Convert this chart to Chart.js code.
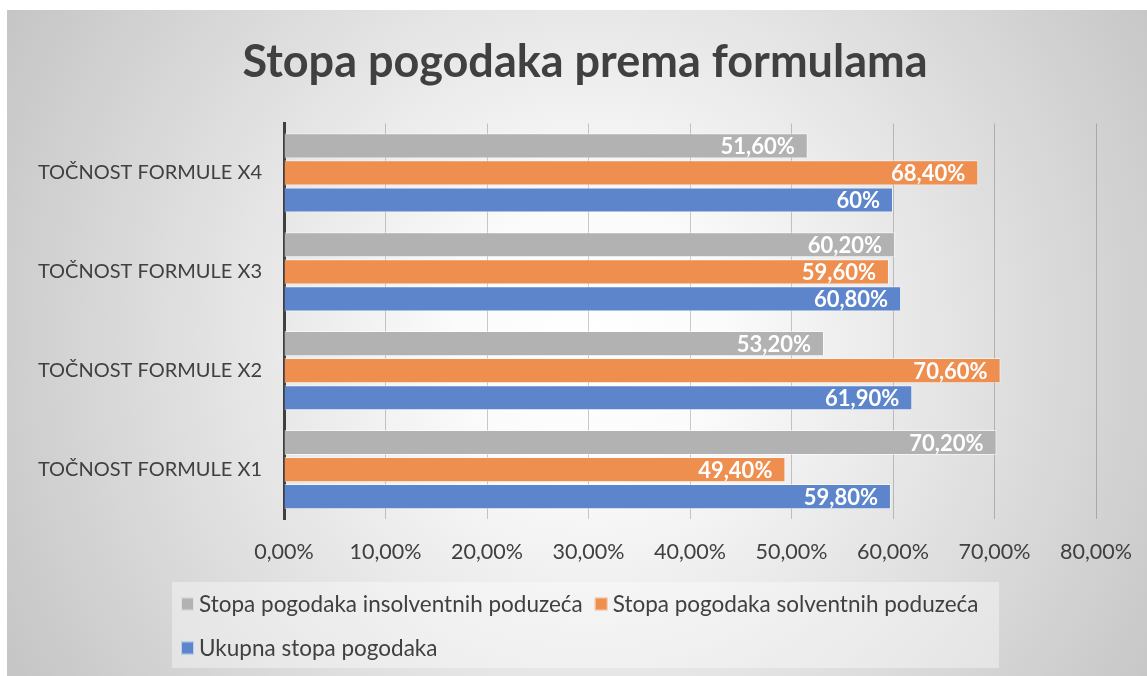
<!DOCTYPE html>
<html>
<head>
<meta charset="utf-8">
<script src="https://cdn.jsdelivr.net/npm/chart.js@4.4.1/dist/chart.umd.min.js"></script>
<style>
html,body{margin:0;padding:0;background:#fff;}
canvas{display:block;}
</style>
</head>
<body>
<canvas id="c" width="1147" height="676"></canvas>
<script>
// ---- data ----
const titleText = 'Stopa pogodaka prema formulama';
const categories = ['TOČNOST FORMULE X4', 'TOČNOST FORMULE X3', 'TOČNOST FORMULE X2', 'TOČNOST FORMULE X1'];
const seriesNames = ['Stopa pogodaka insolventnih poduzeća', 'Stopa pogodaka solventnih poduzeća', 'Ukupna stopa pogodaka'];
const insolventValues = [51.6, 60.2, 53.2, 70.2];
const solventValues = [68.4, 59.6, 70.6, 49.4];
const totalValues = [60, 60.8, 61.9, 59.8];
const xTicks = [0, 10, 20, 30, 40, 50, 60, 70, 80];
const seriesColors = ['#b2b2b2', '#ee8e4f', '#5d85cc'];

const FONT = 'Lato, "Open Sans", sans-serif';
const TEXT = '#404040';

function fmtPct(v, always2) {
  if (!always2 && Number.isInteger(v)) return v + '%';
  return v.toFixed(2).replace('.', ',') + '%';
}

const bgPlugin = {
  id: 'bg',
  afterLayout(chart) {
    // centre the title on the picture, as in the reference
    const t = chart.titleBlock;
    if (t) { const half = (t.right - t.left) / 2; t.left = 585 - half; t.right = 585 + half; }
  },
  beforeDraw(chart) {
    const ctx = chart.ctx;
    ctx.save();
    ctx.fillStyle = '#ffffff';
    ctx.fillRect(0, 0, chart.width, chart.height);
    const g = ctx.createRadialGradient(590, 340, 0, 590, 340, 660);
    g.addColorStop(0, '#ffffff');
    g.addColorStop(0.2, '#fbfbfb');
    g.addColorStop(1, '#c6c6c6');
    ctx.fillStyle = g;
    ctx.fillRect(7, 10, chart.width - 7, chart.height - 10);
    ctx.restore();
  }
};

const labelPlugin = {
  id: 'barLabels',
  afterDatasetsDraw(chart) {
    const ctx = chart.ctx;
    ctx.save();
    ctx.font = 'bold 22px ' + FONT;
    ctx.fillStyle = '#ffffff';
    ctx.textAlign = 'right';
    ctx.textBaseline = 'middle';
    chart.data.datasets.forEach((ds, di) => {
      const meta = chart.getDatasetMeta(di);
      meta.data.forEach((bar, i) => {
        ctx.fillText(fmtPct(ds.data[i], false), bar.x - 13, bar.y + 1);
      });
    });
    ctx.restore();
  }
};

const legendPlugin = {
  id: 'customLegend',
  afterDraw(chart) {
    const ctx = chart.ctx;
    const box = {l: 172, t: 582, r: 999, b: 668};
    ctx.save();
    ctx.fillStyle = 'rgba(255,255,255,0.38)';
    ctx.fillRect(box.l, box.t, box.r - box.l, box.b - box.t);
    ctx.font = '22.5px ' + FONT;
    ctx.textBaseline = 'middle';
    ctx.textAlign = 'left';
    let x = 181, y = 604;
    chart.data.datasets.forEach((ds, i) => {
      const w = ctx.measureText(ds.label).width;
      if (i > 0 && x + 18 + w > box.r) { x = 181; y += 44; }
      ctx.fillStyle = ds.backgroundColor;
      ctx.fillRect(x, y - 6.5, 13, 13);
      ctx.strokeStyle = 'rgba(255,255,255,0.6)';
      ctx.lineWidth = 1;
      ctx.strokeRect(x + 0.5, y - 6, 12, 12);
      ctx.fillStyle = TEXT;
      ctx.fillText(ds.label, x + 18, y + 1);
      x += 18 + w + 12;
    });
    ctx.restore();
  }
};

const ctx = document.getElementById('c').getContext('2d');
new Chart(ctx, {
  type: 'bar',
  data: {
    labels: categories,
    datasets: [
      {label: seriesNames[0], data: insolventValues, backgroundColor: seriesColors[0]},
      {label: seriesNames[1], data: solventValues, backgroundColor: seriesColors[1]},
      {label: seriesNames[2], data: totalValues, backgroundColor: seriesColors[2]}
    ].map(d => Object.assign(d, {borderColor: 'rgba(255,255,255,0.55)', borderWidth: 1, categoryPercentage: 0.82, barPercentage: 0.93}))
  },
  options: {
    indexAxis: 'y',
    responsive: false,
    animation: false,
    layout: {padding: {left: 8, right: 51, top: 10, bottom: 0}},
    plugins: {
      legend: {display: false},
      tooltip: {enabled: false},
      title: {
        display: true,
        text: titleText,
        color: TEXT,
        font: {family: FONT, size: 45, weight: 'bold', lineHeight: 1.2},
        padding: {top: 25, bottom: 34.5}
      }
    },
    scales: {
      x: {
        min: 0, max: 80,
        z: 1,
        afterBuildTicks(scale) { scale.ticks = xTicks.map(v => ({value: v})); },
        afterFit(scale) { scale.height = 157; scale.paddingRight = 40; scale.paddingLeft = 0; },
        ticks: {
          color: TEXT,
          font: {family: FONT, size: 21.5},
          padding: 20,
          callback: v => fmtPct(v, true)
        },
        grid: {color: 'rgba(0,0,0,0.2)', lineWidth: 1, drawTicks: false},
        border: {display: false}
      },
      y: {
        z: 1,
        afterFit(scale) { scale.width = 276; },
        ticks: {
          color: TEXT,
          font: {family: FONT, size: 20},
          crossAlign: 'center',
          padding: 22
        },
        grid: {display: false, drawTicks: false},
        border: {display: true, color: '#404040', width: 3}
      }
    }
  },
  plugins: [bgPlugin, labelPlugin, legendPlugin]
});
</script>
</body>
</html>
